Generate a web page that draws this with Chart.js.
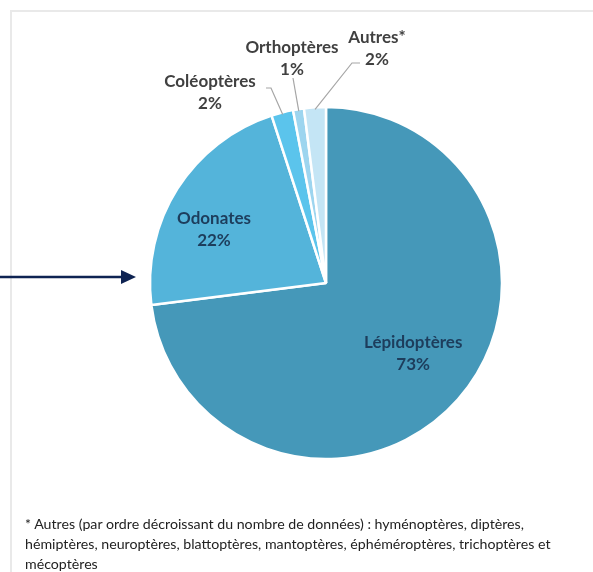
<!DOCTYPE html>
<html>
<head>
<meta charset="utf-8">
<script src="https://cdn.jsdelivr.net/npm/chart.js@4/dist/chart.umd.min.js"></script>
<style>
    html, body { margin: 0; padding: 0; background: #fff; }
    #wrap { position: relative; width: 593px; height: 572px; overflow: hidden; }
    #frame {
        position: absolute; left: 10px; top: 10px; right: -5px; bottom: -5px;
        border-top: 2px solid #e9e9e9; border-left: 2px solid #e9e9e9;
    }
    #chart { position: absolute; left: 0; top: 0; }
    #note {
        position: absolute; left: 25px; top: 514px;
        font-family: Lato, "Open Sans", sans-serif; font-size: 14.2px;
        line-height: 20px; color: #222;
    }
</style>
</head>
<body>
<div id="wrap">
    <div id="frame"></div>
    <canvas id="chart" width="593" height="572"></canvas>
    <div id="note">* Autres (par ordre décroissant du nombre de données) : hyménoptères, diptères,<br>hémiptères, neuroptères, blattoptères, mantoptères, éphéméroptères, trichoptères et<br>mécoptères</div>
</div>
<script>
// Chart data
const categories = ['Lépidoptères', 'Odonates', 'Coléoptères', 'Orthoptères', 'Autres*'];
const shares = [73, 22, 2, 1, 2];
const colors = ['#4598b9', '#54b4da', '#5bc4ec', '#9dd5ef', '#c4e5f5'];

// Label placement: inside labels use a radius factor, outside ones sit at an offset from the centre
const labelLayout = [
    { inside: true, factor: 0.63, dx: 4, dy: -3 },
    { inside: true, factor: 0.7, dx: -8, dy: 13 },
    { inside: false, tx: -116, ty: -190, elbow: [-55, -195], from: [-60, -195] },
    { inside: false, tx: -34, ty: -224, elbow: [-33, -205], from: [-33, -205] },
    { inside: false, tx: 51, ty: -234, elbow: [26, -220], from: [34, -220] }
];

const pieLabels = {
    id: 'pieLabels',
    afterDatasetsDraw(chart) {
        const ctx = chart.ctx;
        const arcs = chart.getDatasetMeta(0).data;
        ctx.save();
        ctx.font = 'bold 17px Lato, "Open Sans", sans-serif';
        ctx.textAlign = 'center';
        ctx.textBaseline = 'middle';
        arcs.forEach((arc, i) => {
            const p = arc.getProps(['x', 'y', 'startAngle', 'endAngle', 'outerRadius'], true);
            const mid = (p.startAngle + p.endAngle) / 2;
            const lay = labelLayout[i];
            const pct = shares[i] + '%';
            if (lay.inside) {
                const lx = p.x + Math.cos(mid) * p.outerRadius * lay.factor + lay.dx;
                const ly = p.y + Math.sin(mid) * p.outerRadius * lay.factor + lay.dy;
                ctx.fillStyle = '#1d3d5c';
                ctx.fillText(categories[i], lx, ly - 11);
                ctx.fillText(pct, lx, ly + 11);
            } else {
                const ex = p.x + Math.cos(mid) * (p.outerRadius - 2);
                const ey = p.y + Math.sin(mid) * (p.outerRadius - 2);
                ctx.strokeStyle = '#a6a6a6';
                ctx.lineWidth = 1.2;
                ctx.beginPath();
                ctx.moveTo(ex, ey);
                ctx.lineTo(p.x + lay.elbow[0], p.y + lay.elbow[1]);
                ctx.lineTo(p.x + lay.from[0], p.y + lay.from[1]);
                ctx.stroke();
                ctx.fillStyle = '#404040';
                ctx.fillText(categories[i], p.x + lay.tx, p.y + lay.ty - 11);
                ctx.fillText(pct, p.x + lay.tx, p.y + lay.ty + 11);
            }
        });
        ctx.restore();
    },
    afterDraw(chart) {
        // navy pointer arrow on the left
        const ctx = chart.ctx;
        ctx.save();
        ctx.strokeStyle = '#0e2352';
        ctx.fillStyle = '#0e2352';
        ctx.lineWidth = 2.5;
        ctx.beginPath();
        ctx.moveTo(0, 277);
        ctx.lineTo(124, 277);
        ctx.stroke();
        ctx.beginPath();
        ctx.moveTo(136, 277);
        ctx.lineTo(121, 270);
        ctx.lineTo(121, 284);
        ctx.closePath();
        ctx.fill();
        ctx.restore();
    }
};

new Chart(document.getElementById('chart'), {
    type: 'pie',
    data: {
        labels: categories,
        datasets: [{
            data: shares,
            backgroundColor: colors,
            borderColor: '#ffffff',
            borderWidth: 2.5
        }]
    },
    options: {
        responsive: false,
        animation: false,
        radius: 176,
        layout: { padding: { left: 59, right: 0, top: 0, bottom: 6 } },
        plugins: {
            legend: { display: false },
            tooltip: { enabled: false }
        }
    },
    plugins: [pieLabels]
});
</script>
</body>
</html>
